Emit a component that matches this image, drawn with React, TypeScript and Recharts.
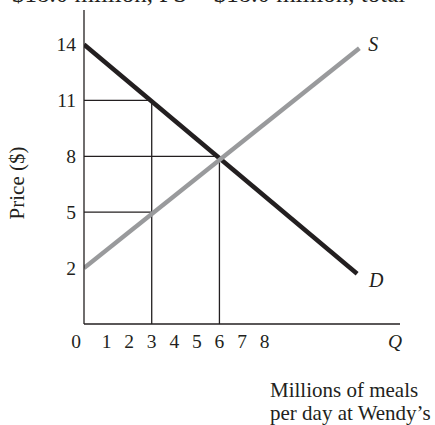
import React from 'react';
import { LineChart, Line, XAxis, YAxis, ReferenceLine, Label } from 'recharts';

// Wendy's meals market: demand D and supply S, equilibrium at Q = 6, P = 8
const quantityTicks = [0, 1, 2, 3, 4, 5, 6, 7, 8];
const priceTicks = [2, 5, 8, 11, 14];

const demandQ = [0, 12.1];
const demandP = [14, 1.7];
const supplyQ = [0, 12.2];
const supplyP = [2, 13.8];

// guide lines to the axes
const guideQ = [3, 6, 3];
const guideP = [11, 8, 5];

const Q_MAX = 14;
const P_FLOOR = -1; // the x axis sits a little below P = 0 in the figure
const P_TOP = 15.85;

const ink = '#231f20';
const serif = "'Liberation Serif', 'DejaVu Serif', serif";

const demand = demandQ.map((q, i) => ({ q, p: demandP[i] }));
const supply = supplyQ.map((q, i) => ({ q, p: supplyP[i] }));

const XTick = ({ x, y, payload }: any) => {
  const v = payload.value;
  const isQ = v === Q_MAX;
  const shift = v === 0 ? -8 : isQ ? -5 : 0;
  return (
    <text
      x={x + shift}
      y={y}
      dy="0.72em"
      textAnchor="middle"
      fill={ink}
      fontSize={19.5}
      fontFamily={serif}
      fontStyle={isQ ? 'italic' : 'normal'}
    >
      {isQ ? 'Q' : v}
    </text>
  );
};

const endLabel = (name: string, last: number, dx: number, dy: number) => (props: any) => {
  if (props.index !== last) return null;
  return (
    <text
      x={props.x + dx}
      y={props.y + dy}
      dominantBaseline="central"
      fill={ink}
      fontSize={20}
      fontStyle="italic"
      fontFamily={serif}
    >
      {name}
    </text>
  );
};

const App: React.FC = () => {
  return (
    <div style={{ position: 'absolute', left: 0, top: 0, width: 435, height: 425, overflow: 'hidden', background: '#fff' }}>
      <div
        style={{
          position: 'absolute',
          left: 12,
          top: -21,
          fontFamily: serif,
          fontSize: 25,
          lineHeight: '30px',
          color: ink,
          whiteSpace: 'nowrap',
        }}
      >
        $18.0 million, PS = $18.0 million, total
      </div>

      <LineChart width={435} height={425} margin={{ top: 10, right: 35, bottom: 71, left: 24 }}>
        <XAxis
          type="number"
          dataKey="q"
          domain={[0, Q_MAX]}
          ticks={[...quantityTicks, Q_MAX]}
          tick={<XTick />}
          tickLine={false}
          tickMargin={4}
          axisLine={{ stroke: ink, strokeWidth: 1.3 }}
          allowDataOverflow
        />
        <YAxis
          type="number"
          dataKey="p"
          domain={[P_FLOOR, P_TOP]}
          ticks={priceTicks}
          tickLine={false}
          tick={{ fill: ink, fontSize: 19.5, fontFamily: serif }}
          axisLine={{ stroke: ink, strokeWidth: 1.3 }}
          allowDataOverflow
        >
          <Label
            content={() => (
              <text
                x={17}
                y={183}
                transform="rotate(-90 17 183)"
                textAnchor="middle"
                dominantBaseline="central"
                fill={ink}
                fontSize={21}
                fontFamily={serif}
              >
                Price ($)
              </text>
            )}
          />
        </YAxis>

        {guideQ.map((q, i) => (
          <ReferenceLine
            key={`h-${i}`}
            segment={[{ x: 0, y: guideP[i] }, { x: q, y: guideP[i] }]}
            stroke={ink}
            strokeWidth={1.3}
          />
        ))}
        {guideQ.slice(0, 2).map((q, i) => (
          <ReferenceLine
            key={`v-${i}`}
            segment={[{ x: q, y: P_FLOOR }, { x: q, y: guideP[i] }]}
            stroke={ink}
            strokeWidth={1.3}
          />
        ))}

        <Line
          data={demand}
          dataKey="p"
          stroke={ink}
          strokeWidth={4.5}
          dot={false}
          isAnimationActive={false}
          label={endLabel('D', demand.length - 1, 12, 6)}
        />
        <Line
          data={supply}
          dataKey="p"
          stroke="#999a9c"
          strokeWidth={4.5}
          dot={false}
          isAnimationActive={false}
          label={endLabel('S', supply.length - 1, 9, -4)}
        />
      </LineChart>

      <div
        style={{
          position: 'absolute',
          left: 270,
          top: 379,
          fontFamily: serif,
          fontSize: 21,
          lineHeight: '23px',
          color: ink,
          whiteSpace: 'nowrap',
        }}
      >
        Millions of meals
        <br />
        per day at Wendy’s
      </div>
    </div>
  );
};

export default App;
